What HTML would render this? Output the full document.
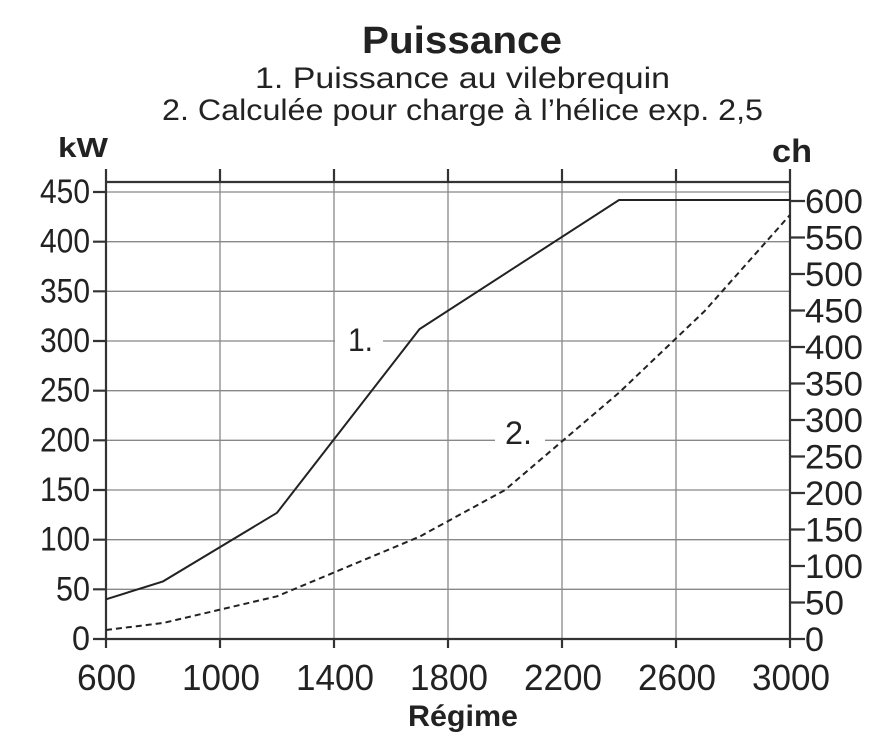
<!DOCTYPE html>
<html><head><meta charset="utf-8"><style>body{margin:0;background:#fff}</style></head><body>
<svg width="883" height="750" xmlns="http://www.w3.org/2000/svg" font-family="Liberation Sans, sans-serif" fill="#222">
<text x="362" y="53" font-size="38" font-weight="bold" textLength="200" lengthAdjust="spacingAndGlyphs">Puissance</text>
<text x="255" y="88" font-size="30" textLength="415" lengthAdjust="spacingAndGlyphs">1. Puissance au vilebrequin</text>
<text x="162" y="120" font-size="30" textLength="601" lengthAdjust="spacingAndGlyphs">2. Calculée pour charge à l’hélice exp. 2,5</text>
<text x="58" y="157" font-size="28" font-weight="bold" textLength="50" lengthAdjust="spacingAndGlyphs">kW</text>
<text x="772" y="162" font-size="32" font-weight="bold" textLength="40" lengthAdjust="spacingAndGlyphs">ch</text>
<g stroke="#888" stroke-width="1.3">
<line x1="106" y1="192" x2="790" y2="192"/>
<line x1="106" y1="241.7" x2="790" y2="241.7"/>
<line x1="106" y1="291.3" x2="790" y2="291.3"/>
<line x1="106" y1="341" x2="335" y2="341"/><line x1="383" y1="341" x2="790" y2="341"/>
<line x1="106" y1="390.7" x2="790" y2="390.7"/>
<line x1="106" y1="440.3" x2="495" y2="440.3"/><line x1="545" y1="440.3" x2="790" y2="440.3"/>
<line x1="106" y1="490" x2="790" y2="490"/>
<line x1="106" y1="539.7" x2="790" y2="539.7"/>
<line x1="106" y1="589.3" x2="790" y2="589.3"/>
<line x1="220" y1="182" x2="220" y2="639"/>
<line x1="334" y1="182" x2="334" y2="639"/>
<line x1="448" y1="182" x2="448" y2="639"/>
<line x1="562" y1="182" x2="562" y2="639"/>
<line x1="676" y1="182" x2="676" y2="639"/>
</g>
<g stroke="#333" stroke-width="2.2">
<line x1="106" y1="169" x2="106" y2="648"/>
<line x1="790" y1="169" x2="790" y2="648"/>
<line x1="106" y1="182" x2="790" y2="182"/>
<line x1="93" y1="639" x2="805" y2="639"/>
<line x1="220" y1="169" x2="220" y2="182"/><line x1="334" y1="169" x2="334" y2="182"/><line x1="448" y1="169" x2="448" y2="182"/><line x1="562" y1="169" x2="562" y2="182"/><line x1="676" y1="169" x2="676" y2="182"/>
<line x1="220" y1="639" x2="220" y2="648"/><line x1="334" y1="639" x2="334" y2="648"/><line x1="448" y1="639" x2="448" y2="648"/><line x1="562" y1="639" x2="562" y2="648"/><line x1="676" y1="639" x2="676" y2="648"/>
<path d="M93 192H106M93 241.7H106M93 291.3H106M93 341H106M93 390.7H106M93 440.3H106M93 490H106M93 539.7H106M93 589.3H106"/>
<path d="M790 201H805M790 237.5H805M790 274H805M790 310.5H805M790 347H805M790 383.5H805M790 420H805M790 456.5H805M790 493H805M790 529.5H805M790 566H805M790 602.5H805"/>
</g>
<g font-size="34" lengthAdjust="spacingAndGlyphs">
<text x="40" y="203" textLength="50" lengthAdjust="spacingAndGlyphs">450</text>
<text x="40" y="252.7" textLength="50" lengthAdjust="spacingAndGlyphs">400</text>
<text x="40" y="302.3" textLength="50" lengthAdjust="spacingAndGlyphs">350</text>
<text x="40" y="352" textLength="50" lengthAdjust="spacingAndGlyphs">300</text>
<text x="40" y="401.7" textLength="50" lengthAdjust="spacingAndGlyphs">250</text>
<text x="40" y="451.3" textLength="50" lengthAdjust="spacingAndGlyphs">200</text>
<text x="40" y="501" textLength="50" lengthAdjust="spacingAndGlyphs">150</text>
<text x="40" y="550.7" textLength="50" lengthAdjust="spacingAndGlyphs">100</text>
<text x="56" y="600.3" textLength="34" lengthAdjust="spacingAndGlyphs">50</text>
<text x="72" y="650" textLength="18" lengthAdjust="spacingAndGlyphs">0</text>
</g>
<g font-size="34">
<text x="805" y="213" textLength="58" lengthAdjust="spacingAndGlyphs">600</text>
<text x="805" y="249.5" textLength="58" lengthAdjust="spacingAndGlyphs">550</text>
<text x="805" y="286" textLength="58" lengthAdjust="spacingAndGlyphs">500</text>
<text x="805" y="322.5" textLength="58" lengthAdjust="spacingAndGlyphs">450</text>
<text x="805" y="359" textLength="58" lengthAdjust="spacingAndGlyphs">400</text>
<text x="805" y="395.5" textLength="58" lengthAdjust="spacingAndGlyphs">350</text>
<text x="805" y="432" textLength="58" lengthAdjust="spacingAndGlyphs">300</text>
<text x="805" y="468.5" textLength="58" lengthAdjust="spacingAndGlyphs">250</text>
<text x="805" y="505" textLength="58" lengthAdjust="spacingAndGlyphs">200</text>
<text x="805" y="541.5" textLength="58" lengthAdjust="spacingAndGlyphs">150</text>
<text x="805" y="578" textLength="58" lengthAdjust="spacingAndGlyphs">100</text>
<text x="805" y="614.5" textLength="39" lengthAdjust="spacingAndGlyphs">50</text>
<text x="805" y="651" textLength="19" lengthAdjust="spacingAndGlyphs">0</text>
</g>
<g font-size="36">
<text x="77" y="690" textLength="59" lengthAdjust="spacingAndGlyphs">600</text>
<text x="182" y="690" textLength="78" lengthAdjust="spacingAndGlyphs">1000</text>
<text x="296" y="690" textLength="78" lengthAdjust="spacingAndGlyphs">1400</text>
<text x="410" y="690" textLength="78" lengthAdjust="spacingAndGlyphs">1800</text>
<text x="524" y="690" textLength="78" lengthAdjust="spacingAndGlyphs">2200</text>
<text x="638" y="690" textLength="78" lengthAdjust="spacingAndGlyphs">2600</text>
<text x="752" y="690" textLength="78" lengthAdjust="spacingAndGlyphs">3000</text>
</g>
<text x="408" y="726" font-size="30" font-weight="bold" textLength="110" lengthAdjust="spacingAndGlyphs">Régime</text>
<text x="348" y="351" font-size="32" textLength="25" lengthAdjust="spacingAndGlyphs">1.</text>
<text x="505" y="444" font-size="32" textLength="27" lengthAdjust="spacingAndGlyphs">2.</text>
<polyline fill="none" stroke="#222" stroke-width="2" points="106,599.3 163,581.4 277,512.8 419.5,329.1 619,200 790,200"/>
<polyline fill="none" stroke="#222" stroke-width="2" stroke-dasharray="6,4" points="106,630 163,623 277,596.3 419.5,536.7 505,490 619,392.7 704.5,311.2 790,214.9"/>
</svg>
</body></html>
